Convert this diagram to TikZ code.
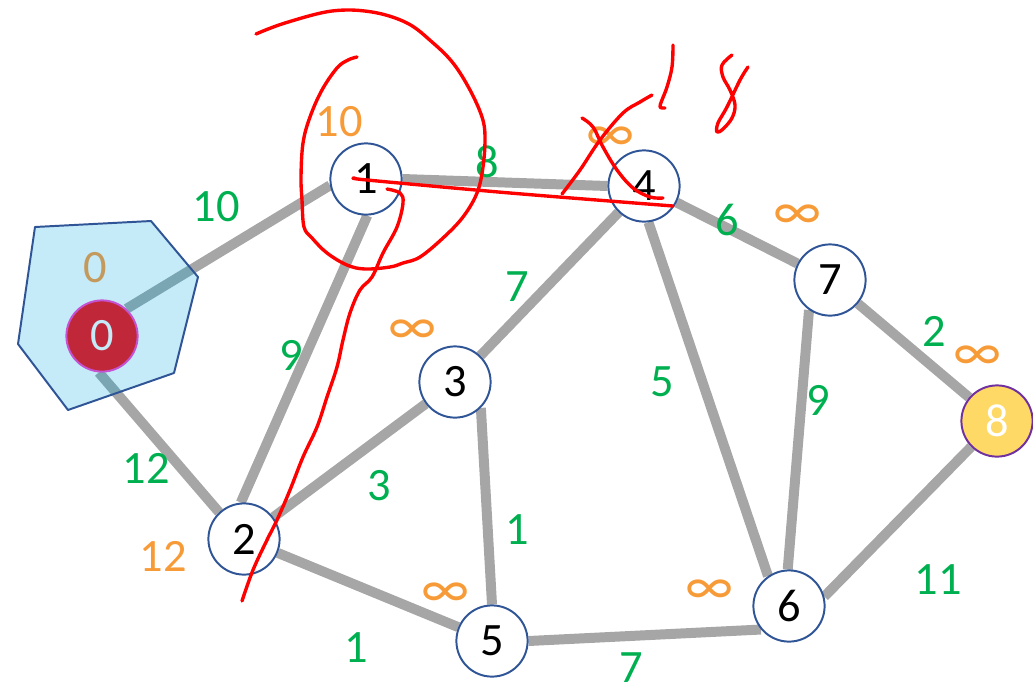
\documentclass[tikz,border=0pt]{standalone}
\usepackage{fontspec}
\setmainfont{Carlito}
\usepackage{xcolor}
\definecolor{grapheGris}{HTML}{A6A6A6}
\definecolor{grapheGrisBleu}{HTML}{7AA6B4}
\definecolor{grapheBleu}{HTML}{2F5597}
\definecolor{grapheCiel}{HTML}{C5EAF8}
\definecolor{grapheRouge}{HTML}{C0283A}
\definecolor{grapheMauve}{HTML}{C552D2}
\definecolor{grapheJaune}{HTML}{FFD966}
\definecolor{graphePourpre}{HTML}{7030A0}
\definecolor{grapheVert}{HTML}{00B050}
\definecolor{grapheOrange}{HTML}{F79B38}
\definecolor{grapheOcre}{HTML}{C49A5C}
\usetikzlibrary{backgrounds}
\newcommand{\Gros}{\fontsize{33}{36}\selectfont}
\newcommand{\Infini}{{\fontsize{40}{40}\selectfont ∞}}
\tikzset{
  %% -- Sommets --------------------------------------------------------
  sommet/.style       = {circle, draw=grapheBleu, line width=1.4pt, fill=white,
                         minimum size=1.78cm, inner sep=0pt, font=\Gros},
  sommetSource/.style = {sommet, fill=grapheRouge, draw=grapheMauve,
                         text=grapheCiel},
  sommetCible/.style  = {sommet, fill=grapheJaune, draw=graphePourpre,
                         text=white},
  %%
  %% -- Aretes ---------------------------------------------------------
  arete/.style        = {draw=grapheGris, line width=7.1pt},
  areteDedans/.style  = {draw=grapheGrisBleu, line width=7.1pt},
  %%
  %% -- Textes ---------------------------------------------------------
  poids/.style        = {font=\Gros, text=grapheVert, inner sep=0pt},
  etiqDist/.style     = {font=\Gros, text=grapheOrange, inner sep=0pt},
  %%
  %% -- Trace a la main ------------------------------------------------
  traitMain/.style    = {draw=red, line width=2.4pt, line cap=round,
                         line join=round},
}

\begin{document}
\begin{tikzpicture}[x=0.025cm, y=-0.025cm]
\useasboundingbox (0,0) rectangle (1033,686);

%% Les sommets du graphe.
\node[sommetSource] (n0) at (102,336) {0};
\node[sommet]       (n1) at (366,179) {1};
\node[sommet]       (n2) at (244,539) {2};
\node[sommet]       (n3) at (455,382) {3};
\node[sommet]       (n4) at (644,186) {4};
\node[sommet]       (n5) at (492,641) {5};
\node[sommet]       (n6) at (789,606) {6};
\node[sommet]       (n7) at (830,280) {7};
\node[sommetCible]  (n8) at (997,421) {8};

\begin{pgfonlayer}{background}
  \draw[arete] (n0.48) -- (n1.190);
  \draw[arete] (n0.-95) -- (n2.133);
  \draw[arete] (n1.-88) -- (n2.95);
  \draw[arete] (n1.east) -- (n4.west);
  \draw[arete] (n2) -- (n3);
  \draw[arete] (n2) -- (n5);
  \draw[arete] (n3) -- (n4);
  \draw[arete] (n3.-45) -- (n5.north);
  \draw[arete] (n4.-83) -- (n6.125);
  \draw[arete] (n4) -- (n7);
  \draw[arete] (n5.east) -- (n6.220);
  \draw[arete] (n7.235) -- (n6.92);
  \draw[arete] (n7) -- (n8);
  \draw[arete] (n8.225) -- (n6.15);
  %% L'ensemble deja visite, autour de la source.
  \fill[grapheCiel] (35,227) -- (151,221) -- (198,277) -- (174,373)
                    -- (68,410) -- (18,344) -- cycle;
  \begin{scope}
    \clip (35,227) -- (151,221) -- (198,277) -- (174,373)
          -- (68,410) -- (18,344) -- cycle;
    \draw[areteDedans] (n0.48) -- (n1.190);
    \draw[areteDedans] (n0.-95) -- (n2.133);
  \end{scope}
  \draw[grapheBleu, line width=1.4pt, line join=round]
       (35,227) -- (151,221) -- (198,277) -- (174,373)
       -- (68,410) -- (18,344) -- cycle;
\end{pgfonlayer}

%% Poids des aretes.
\foreach \nom/\x/\y/\t in {p01/216/207/10, p14/487/162/8, p12/291/355/9,
                           p34/517/287/7, p47/727/220/6, p02/146/468/12,
                           p23/379/486/3, p46/662/382/5, p76/818/400/9,
                           p78/934/331/2, p35/517/530/1, p25/356/648/1,
                           p56/631/668/7, p86/938/580/11}
  \node[poids] (\nom) at (\x,\y) {\t};

%% Distances provisoires.
\node[etiqDist, text=grapheOcre] (d0) at (95,268) {0};
\node[etiqDist] (d1) at (339,122) {10};
\node[etiqDist] (d2) at (163,556) {12};
\foreach \nom/\x/\y in {d3/412/332, d4/610/139, d5/445/595, d6/709/592,
                        d7/797/217, d8/977/358}
  \node[etiqDist] (\nom) at (\x,\y) {\Infini};

%% Annotations a main levee.
\draw[traitMain] plot[smooth, tension=0.6] coordinates {
  (256,34) (285,23) (332,11) (372,12) (407,23) (432,42) (453,63) (470,90)
  (482,117) (485,137) (483,167) (477,193) (463,217) (443,238) (420,257)
  (403,263) (390,267) (365,269) (347,265) (327,253) (312,238) (304,227)
  (302,200) (301,177) (303,143) (310,117) (322,90) (337,68) (348,60) (357,57)};
\draw[traitMain] plot[smooth, tension=0.5] coordinates {
  (355,178) (367,180) (510,193) (673,206)};
\draw[traitMain] plot[smooth, tension=0.6] coordinates {
  (387,189) (400,193) (403,203) (397,227) (383,253) (372,277) (360,290)
  (350,313) (343,340) (337,367) (327,397) (317,427) (303,457) (290,490)
  (277,520) (267,540) (253,570) (242,601)};
\draw[traitMain] plot[smooth, tension=0.6] coordinates {
  (562,194) (580,170) (600,140) (623,113) (640,102) (652,95)};
\draw[traitMain] plot[smooth, tension=0.6] coordinates {
  (582,118) (593,127) (603,147) (617,170) (633,188) (650,197) (663,198)};
\draw[traitMain] plot[smooth, tension=0.6] coordinates {
  (673,45) (672,67) (667,87) (662,100) (660,107) (665,108)};
\draw[traitMain] plot[smooth, tension=0.6] coordinates {
  (732,55) (722,65) (723,77) (730,90) (735,105) (732,118) (723,129)
  (717,132) (718,123) (727,107) (740,80) (748,67)};

\end{tikzpicture}
\end{document}
